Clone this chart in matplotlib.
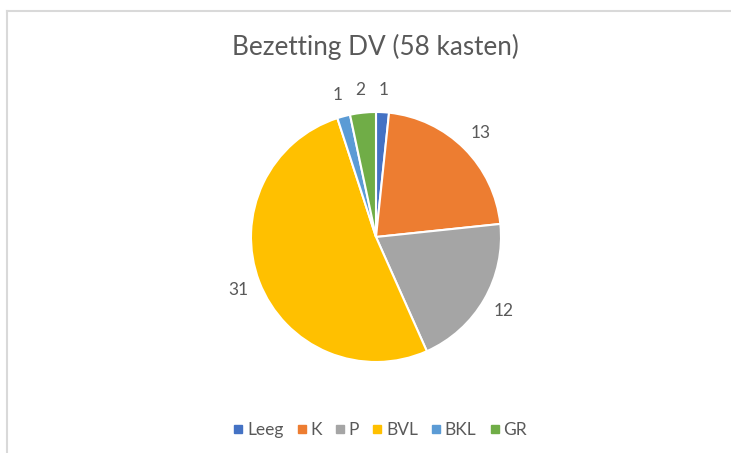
import matplotlib
matplotlib.use("Agg")
import matplotlib.pyplot as plt
from matplotlib.lines import Line2D

# data
categories = ["Leeg", "K", "P", "BVL", "BKL", "GR"]
values = [1, 13, 12, 31, 1, 2]
colors = ["#4472C4", "#ED7D31", "#A5A5A5", "#FFC000", "#5B9BD5", "#70AD47"]
title = "Bezetting DV (58 kasten)"

plt.rcParams["font.family"] = ["Lato", "DejaVu Sans"]
text_color = "#595959"

W, H = 731, 453
fig = plt.figure(figsize=(W / 100, H / 100), dpi=100)

# pie axes: centre (376, 237) px from top-left, radius ~125 px
S = 325
cx, cy = 376, H - 237
ax = fig.add_axes([(cx - S / 2) / W, (cy - S / 2) / H, S / W, S / H])
wedges, texts = ax.pie(values, labels=[str(v) for v in values], colors=colors,
                       startangle=90, counterclock=False, labeldistance=1.18,
                       wedgeprops=dict(edgecolor="white", linewidth=1.5),
                       textprops=dict(color=text_color, fontsize=12.5))
for t in texts:
    t.set_ha("center")
ax.set_xlim(-1.3, 1.3)
ax.set_ylim(-1.3, 1.3)
ax.set_aspect("equal")

fig.text(375 / W, 1 - 47 / H, title, ha="center", va="center",
         fontsize=18.8, color=text_color)

handles = [Line2D([], [], marker="s", linestyle="", markersize=5.5,
                  markerfacecolor=c, markeredgecolor=c) for c in colors]
fig.legend(handles, categories, loc="center", bbox_to_anchor=(380 / W, 1 - 430 / H),
           ncol=6, frameon=False, fontsize=12.5, labelcolor=text_color,
           handletextpad=0.2, columnspacing=0.75, handlelength=0.6)

# light chart frame (top and left edges visible in the crop)
fig.add_artist(Line2D([7 / W, 1], [1 - 11 / H, 1 - 11 / H], color="#D9D9D9", lw=1.5))
fig.add_artist(Line2D([7 / W, 7 / W], [0, 1 - 11 / H], color="#D9D9D9", lw=1.5))

fig.savefig("out.png", dpi=100)
